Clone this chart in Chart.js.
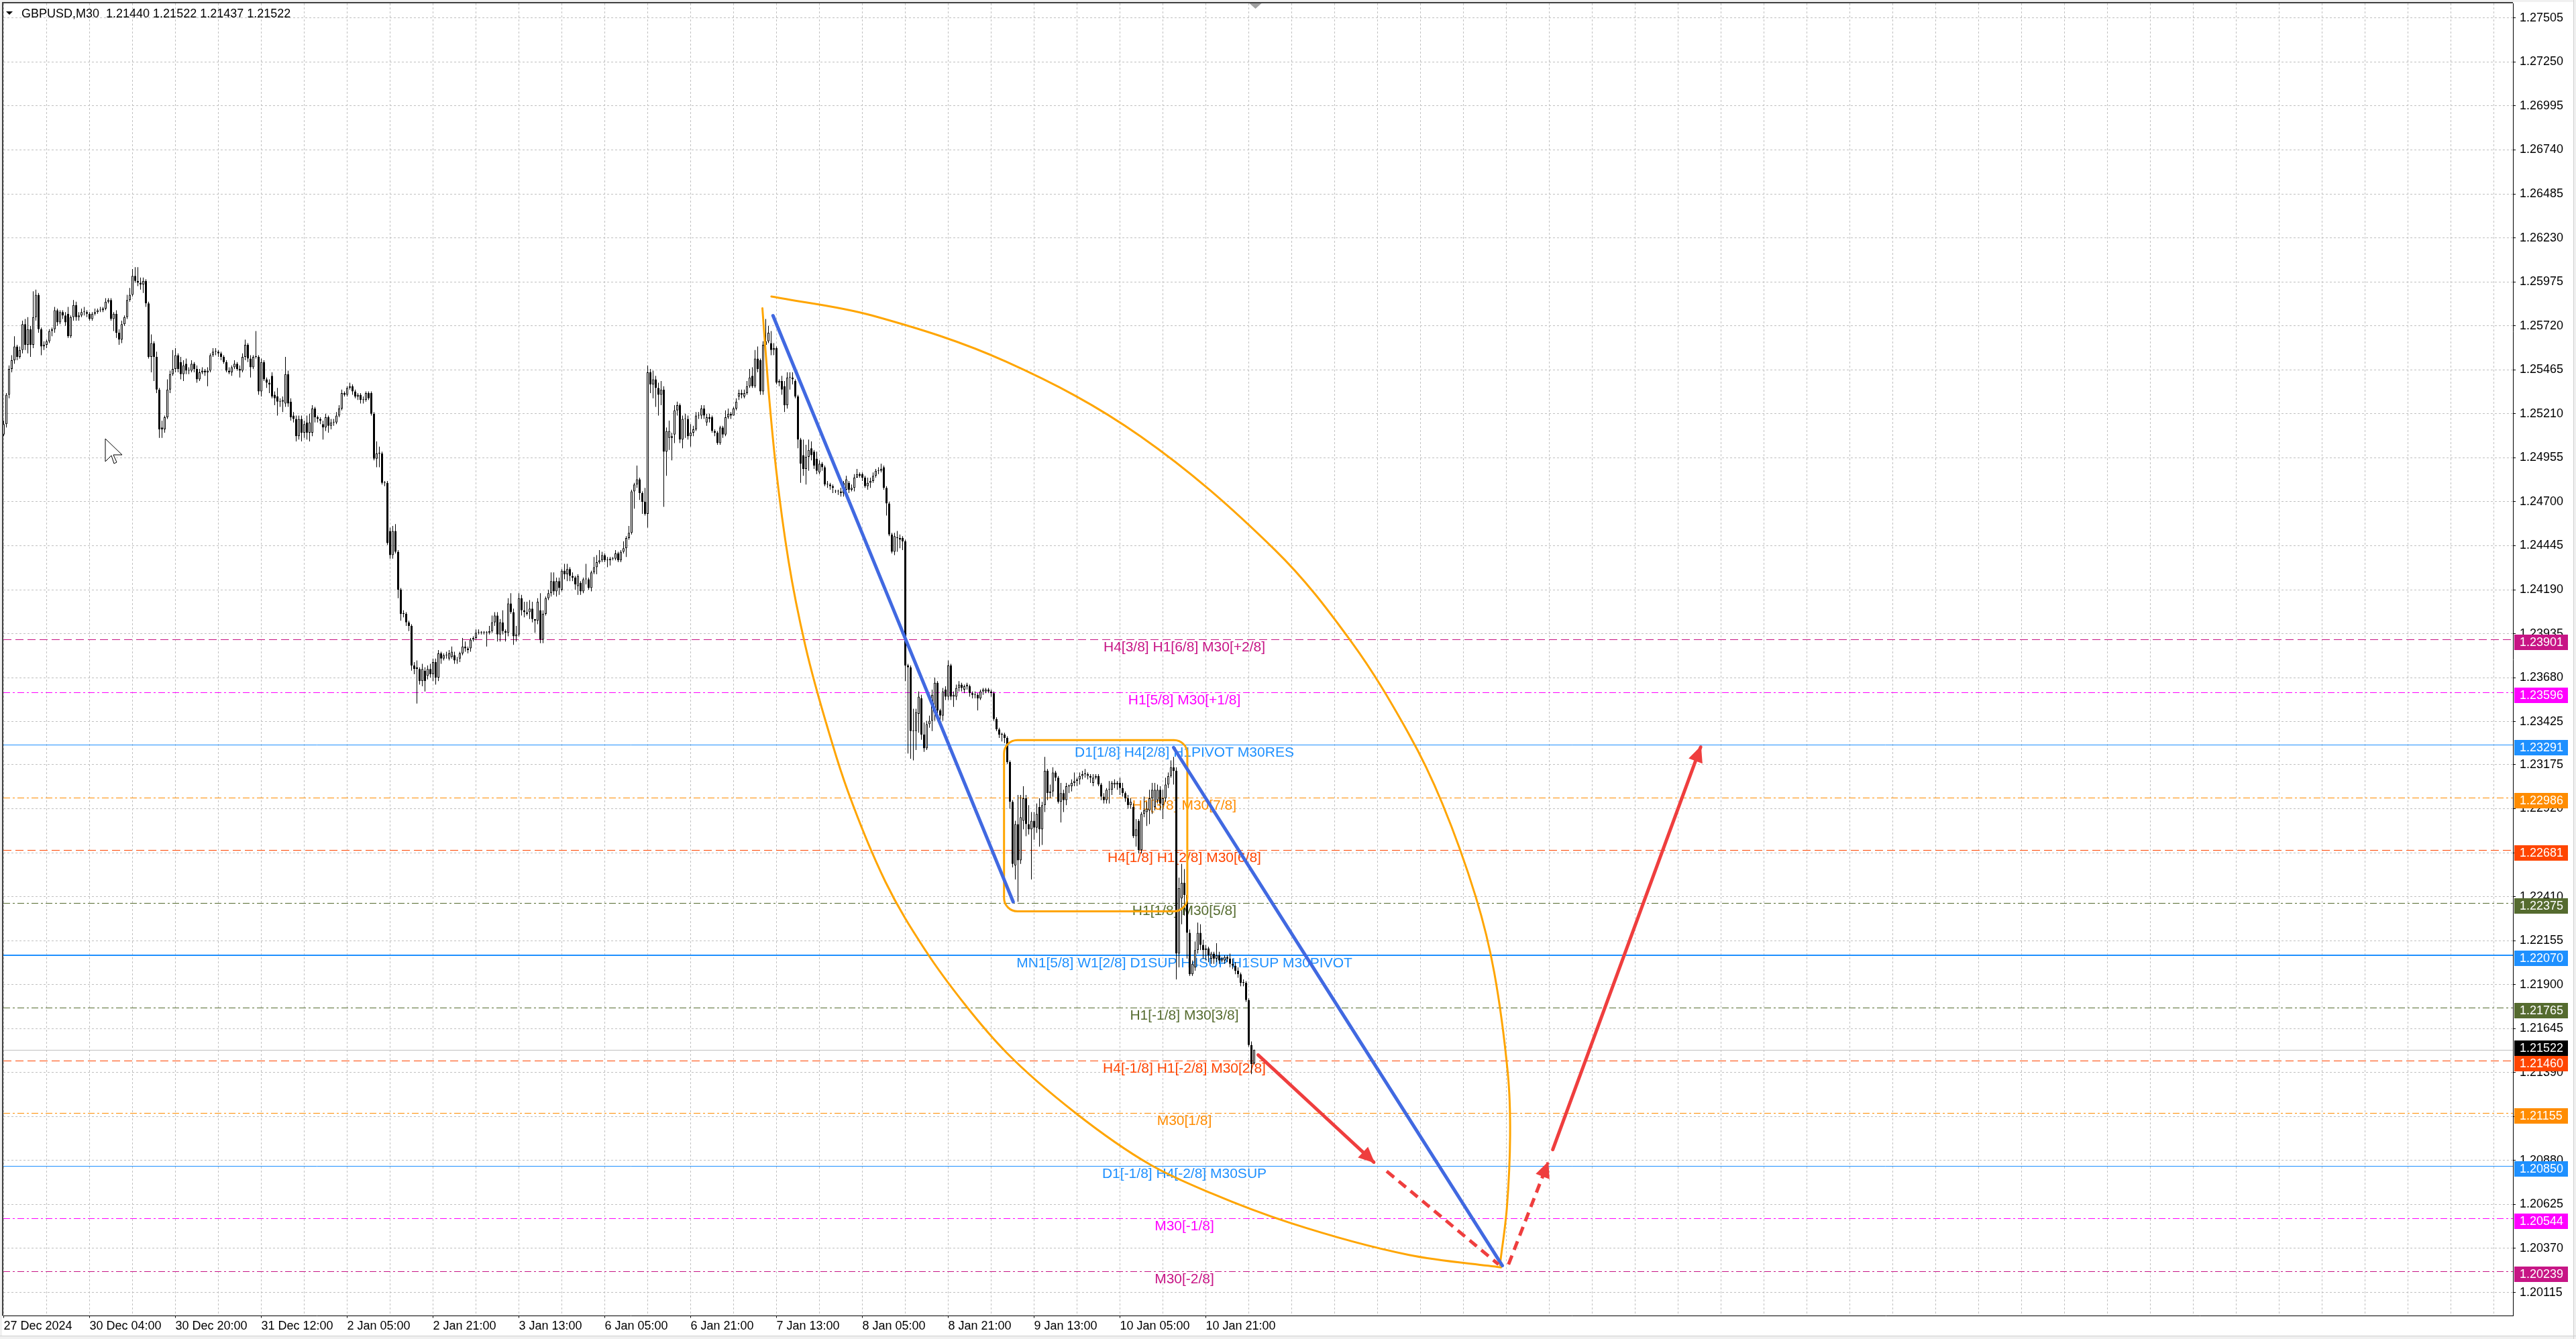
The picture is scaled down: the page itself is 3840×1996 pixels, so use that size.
<!DOCTYPE html>
<html>
<head>
<meta charset="utf-8">
<title>GBPUSD,M30</title>
<script src="https://cdn.jsdelivr.net/npm/chart.js@4.4.1/dist/chart.umd.min.js"></script>
<style>
  html, body { margin: 0; padding: 0; background: #ffffff; }
  #wrap { width: 3840px; height: 1996px; }
</style>
</head>
<body>
<div id="wrap"><canvas id="chart" width="3840" height="1996"></canvas></div>
<script>
// ── Quotes: pips above 1.2000, one entry per M30 bar ─────────
const BASE = 1.2;
const PIP = 0.0001;

const openPips = [
  509,515,532,547,552,560,554,558,573,561, 570,561,577,590,570,560,561,563,569,570,
  581,574,580,578,579,566,577,584,577,578, 580,580,579,576,579,580,581,581,582,586,
  587,576,579,568,564,573,577,587,590,601, 598,597,596,598,585,554,562,554,535,513,
  512,519,535,544,547,555,551,544,550,546, 546,550,547,541,545,546,545,546,555,557,
  557,556,554,551,546,545,548,550,547,546, 554,561,553,548,554,554,534,551,541,539,
  543,532,531,528,528,527,544,528,520,518, 508,518,510,516,510,510,524,519,518,515,
  513,519,514,516,516,520,524,533,532,536, 537,534,531,532,529,529,533,533,521,495,
  498,498,481,481,453,439,453,441,419,405, 405,400,398,375,374,373,366,372,369,373,
  370,377,368,382,379,381,379,380,381,378, 379,382,386,385,
  385,390,391,394,394,394,394,394,395,400, 404,393,400,395,394,411,406,392,393,414,
  407,405,406,408,402,401,407,390,405,414, 417,424,418,424,419,430,428,431,427,426,
  421,423,418,425,425,420,429,432,435,436, 439,436,436,437,437,440,436,441,443,449,
  452,476,480,483,475,470,463,545,538,541, 536,532,535,499,507,508,509,523,526,506,
  518,518,508,510,512,520,520,524,516,519, 519,511,510,504,513,509,519,521,520,524,
  531,533,531,533,537,543,537,553,552,534, 561,563,562,558,559,539,540,537,526,542,
  542,540,531,506,497,489,496,501,499,495, 487,492,490,480,480,479,476,476,476,475,
  477,481,477,478,484,486,486,484,479,481, 482,485,488,488,490,478,469,451,441,449,
  449,449,447,375,374,337,337,347,356,335, 327,341,343,350,365,349,346,361,357,375,
  357,357,362,364,361,363,363,359,358,358, 356,360,360,361,360,359,344,338,335,335,
  333,319,296,259,283,262,285,298,283,280, 285,281,293,280,294,314,301,302,313,310,
  296,301,297,305,305,307,308,309,311,312, 311,311,307,310,311,306,299,297,303,303,
  306,306,307,304,301,298,294,293,276,285, 268,289,290,291,298,293,297,303,294,298,
  306,311,316,314,208,240,249,242,220,196, 200,210,220,213,210,211,205,208,205,207,
  204,204,206,205,202,201,198,196,191,191, 181,155,144.4
];
const highPips = [
  517,533,549,555,566,561,560,575,576,577, 572,592,593,591,571,563,564,570,571,583,
  582,581,581,580,583,578,587,586,580,582, 583,581,580,580,582,582,583,583,588,588,
  588,580,581,570,575,578,590,594,605,606, 606,600,600,599,586,567,563,557,536,517,
  520,541,546,558,559,556,554,552,553,548, 552,551,549,547,548,547,548,556,559,559,
  558,557,555,552,548,549,552,551,549,556, 564,562,555,555,569,555,553,552,542,541,
  545,534,536,530,531,554,546,530,522,520, 520,520,517,520,521,526,525,520,519,517,
  521,520,518,518,522,526,535,534,537,539, 538,535,533,533,531,534,534,534,522,505,
  502,499,482,482,455,456,457,442,420,407, 406,401,399,377,378,374,376,374,375,376,
  379,379,384,383,382,383,384,386,383,380, 383,391,389,386,
  391,392,396,396,395,395,395,398,404,406, 406,402,407,396,414,417,408,398,417,416,
  412,412,413,412,402,414,417,407,415,419, 429,429,426,426,431,434,434,432,429,427,
  428,424,426,434,426,430,438,439,442,441, 440,438,438,438,442,441,442,447,450,456,
  477,481,491,484,476,478,549,547,546,543, 539,540,537,513,517,510,526,528,527,520,
  521,520,515,514,522,522,526,526,521,521, 520,512,511,514,514,523,524,522,525,530,
  535,535,535,540,547,548,558,560,553,563, 576,572,569,562,560,541,543,540,545,545,
  545,541,532,507,506,503,506,505,500,499, 494,493,491,482,481,480,477,477,478,482,
  485,482,480,486,489,487,487,485,484,484, 487,489,490,492,491,479,470,452,452,453,
  451,450,448,376,375,350,350,360,358,342, 343,346,361,368,366,350,362,363,378,376,
  360,364,366,365,364,365,364,360,360,359, 361,362,362,362,361,360,345,339,336,336,
  334,320,297,285,300,300,305,300,294,290, 290,295,298,296,322,315,306,316,314,311,
  307,303,307,306,309,313,310,313,314,315, 313,312,312,312,312,307,301,304,308,308,
  309,308,310,307,302,300,298,295,286,286, 290,299,296,303,307,307,306,305,303,310,
  313,320,322,316,252,260,257,245,222,204, 215,226,225,216,213,212,209,209,214,209,
  206,207,207,208,205,203,200,197,193,192, 182,157,152.2
];
const lowPips = [
  508,513,530,545,550,552,553,556,558,556, 554,559,575,568,555,558,559,562,566,568,
  572,573,576,572,565,565,575,575,575,577, 578,577,575,575,578,579,580,580,581,585,
  575,569,565,561,562,572,576,586,589,597, 595,593,591,583,553,545,540,533,507,507,
  510,518,533,543,545,545,541,540,544,544, 545,545,539,540,544,543,537,545,554,555,
  554,552,550,545,544,543,547,546,542,545, 552,551,542,547,553,532,531,540,536,533,
  530,526,520,525,522,525,525,517,516,505, 506,505,507,506,505,508,516,516,515,506,
  511,510,512,514,515,519,523,531,531,535, 532,530,529,527,527,528,529,520,494,490,
  490,480,479,445,437,437,440,414,401,403, 398,395,372,370,353,364,363,360,367,368,
  366,364,366,376,378,379,378,379,376,376, 377,381,383,382,
  383,389,390,393,393,393,386,393,394,398, 389,389,393,389,392,405,387,389,392,404,
  403,404,402,400,394,399,388,388,404,413, 415,416,415,416,418,425,424,424,424,419,
  416,416,417,422,419,418,428,428,434,435, 435,432,433,436,436,435,435,440,438,448,
  451,466,478,471,463,462,455,533,530,525, 520,526,467,485,500,494,504,520,504,501,
  507,506,502,508,511,518,518,518,514,516, 510,508,503,503,507,508,518,518,520,523,
  529,530,530,532,536,536,536,545,532,532, 560,562,555,555,538,537,532,522,524,535,
  538,530,501,481,485,480,488,494,489,486, 486,488,479,478,477,475,475,474,473,473,
  475,475,476,476,484,484,482,478,477,478, 481,484,486,487,477,462,450,440,439,441,
  443,442,366,324,321,320,326,336,332,325, 326,339,337,343,343,341,343,355,355,355,
  351,355,360,360,359,361,357,356,356,349, 355,358,359,359,357,343,337,333,331,330,
  318,292,258,251,238,260,280,276,277,251, 274,278,270,271,290,297,298,299,308,295,
  284,290,294,301,302,305,305,306,309,310, 309,307,305,309,305,297,295,295,295,300,
  304,303,300,299,296,292,292,275,270,266, 266,287,282,283,289,291,295,291,286,296,
  304,310,306,193,200,225,230,205,195,195, 198,208,210,205,204,203,202,202,203,202,
  203,202,203,200,199,196,194,189,189,180, 154,138,143.7
];
const closePips = [
  515,532,547,552,560,554,558,573,561,570, 561,577,590,570,560,561,563,569,570,581,
  574,580,578,574,566,577,584,577,578,580, 580,579,576,579,580,581,581,582,586,587,
  576,579,568,564,573,577,587,590,601,598, 597,596,598,585,554,562,554,535,512,512,
  519,535,544,547,555,547,544,549,546,546, 550,547,541,545,546,545,546,555,557,557,
  556,554,551,546,545,548,550,547,546,554, 561,553,548,554,554,534,551,541,539,538,
  531,530,528,528,529,544,527,519,518,508, 518,510,515,510,516,524,519,518,517,513,
  519,514,516,516,520,524,533,532,536,537, 534,531,532,529,529,533,530,521,495,498,
  498,481,481,446,439,453,441,419,405,405, 400,398,375,373,373,366,373,366,373,370,
  377,368,382,379,381,381,382,383,378,378, 382,386,385,384,
  390,391,394,394,394,394,394,395,400,404, 393,400,395,394,411,406,392,393,414,407,
  406,406,408,402,401,412,390,405,414,417, 424,418,424,420,430,428,431,427,426,422,
  427,418,425,425,420,429,432,435,436,439, 436,436,437,437,440,436,441,443,449,452,
  476,480,483,475,470,463,545,538,541,536, 532,535,499,511,511,507,523,526,506,518,
  518,508,510,512,520,520,524,520,519,518, 511,510,504,513,509,519,521,520,524,528,
  533,532,533,537,542,537,553,547,534,561, 563,568,558,559,539,540,535,526,542,542,
  541,531,506,492,489,496,500,497,491,488, 492,490,480,480,479,478,476,476,475,481,
  483,477,478,484,486,485,484,479,481,482, 485,488,488,489,478,469,451,441,450,449,
  448,447,375,374,337,337,348,357,335,327, 341,343,358,365,349,346,360,357,375,357,
  358,362,364,362,363,364,359,358,358,356, 360,361,361,360,359,344,338,335,335,333,
  319,296,260,283,262,287,298,283,280,285, 281,289,280,294,314,301,302,313,310,296,
  301,297,305,305,307,308,309,311,312,312, 312,310,310,311,306,299,297,303,303,307,
  307,307,304,301,298,294,296,276,280,268, 289,291,292,298,303,303,303,295,298,306,
  311,316,314,208,246,249,242,220,196,202, 210,220,213,210,211,207,208,205,207,204,
  205,206,205,202,201,198,196,191,191,181, 155,144,152.2
];

// ── Axis labels ──────────────────────────────────────────────
const timeLabels = ['27 Dec 2024', '30 Dec 04:00', '30 Dec 20:00', '31 Dec 12:00', '2 Jan 05:00',
  '2 Jan 21:00', '3 Jan 13:00', '6 Jan 05:00', '6 Jan 21:00', '7 Jan 13:00', '8 Jan 05:00',
  '8 Jan 21:00', '9 Jan 13:00', '10 Jan 05:00', '10 Jan 21:00'];
const BARS_PER_LABEL = 32;
const BARS_PER_GRID = 16;
const priceTicks = [1.27505, 1.27250, 1.26995, 1.26740, 1.26485, 1.26230, 1.25975, 1.25720,
  1.25465, 1.25210, 1.24955, 1.24700, 1.24445, 1.24190, 1.23935, 1.23680, 1.23425, 1.23175,
  1.22920, 1.22665, 1.22410, 1.22155, 1.21900, 1.21645, 1.21390, 1.21135, 1.20880, 1.20625,
  1.20370, 1.20115];

// ── Murrey math levels ───────────────────────────────────────
const levelPrices = [1.23901, 1.23596, 1.23291, 1.22986, 1.22681, 1.22375, 1.22070,
  1.21765, 1.21460, 1.21155, 1.20850, 1.20544, 1.20239];
const levelNames = ['H4[3/8] H1[6/8] M30[+2/8]', 'H1[5/8] M30[+1/8]', 'D1[1/8] H4[2/8] H1PIVOT M30RES',
  'H1[3/8] M30[7/8]', 'H4[1/8] H1[2/8] M30[6/8]', 'H1[1/8] M30[5/8]',
  'MN1[5/8] W1[2/8] D1SUP H4SUP H1SUP M30PIVOT', 'H1[-1/8] M30[3/8]', 'H4[-1/8] H1[-2/8] M30[2/8]',
  'M30[1/8]', 'D1[-1/8] H4[-2/8] M30SUP', 'M30[-1/8]', 'M30[-2/8]'];
const bidPrice = 1.21522;
const quoteTitle = 'GBPUSD,M30  1.21440 1.21522 1.21437 1.21522';

// ── Projection drawing: [bar, price] ─────────────────────────
const trendA = [[286.7, 1.25779], [376.2, 1.22380]];
const trendB = [[436, 1.23274], [558.5, 1.20270]];
const arcLeft = [[282.75, 1.25822], [285, 1.25354], [287.9, 1.24883], [292.5, 1.24355],
  [298.75, 1.23865], [308.75, 1.23300], [314.6, 1.23021], [328.6, 1.22496], [343.6, 1.22096],
  [358.6, 1.21777], [373.75, 1.21505], [399.5, 1.21155], [427.25, 1.20856], [450.3, 1.20688],
  [479, 1.20520], [523.75, 1.20332], [558, 1.20260]];
const arcRight = [[286.1, 1.25890], [323.6, 1.25780], [373.6, 1.25512], [423.6, 1.25080],
  [473.6, 1.24423], [502.4, 1.23884], [523.6, 1.23355], [536.1, 1.22951], [548.6, 1.22409],
  [555.5, 1.21969], [560.55, 1.21385], [561.4, 1.21027], [560.2, 1.20607], [557.6, 1.20273]];
const rangeBox = [372.8, 441.1, 1.23318, 1.22325];   // bar from, bar to, top, bottom
const moveDown = [[467.5, 1.21492], [510.6, 1.20870]];
const moveDownNext = [[515.4, 1.20818], [557.1, 1.20277]];
const moveUpFirst = [[560.8, 1.20277], [575.5, 1.20867]];
const moveUp = [[577.3, 1.20943], [632.4, 1.23277]];

// ── Styles ───────────────────────────────────────────────────
const FONT = '"Liberation Sans", Arial, sans-serif';
const levelColors = ['#C71585', '#FF00FF', '#1E90FF', '#FF8C00', '#FF4500', '#556B2F', '#1E90FF',
  '#556B2F', '#FF4500', '#FF8C00', '#1E90FF', '#FF00FF', '#C71585'];
const levelStyles = ['dash', 'dashdot', 'solid', 'dashdot', 'dash', 'dashdot', 'solid',
  'dashdot', 'dash', 'dashdot', 'solid', 'dashdot', 'dashdot'];
const levelWidths = [1, 1, 1, 1, 1, 1, 2, 1, 1, 1, 1, 1, 1];
const DASH = { solid: [], dash: [12, 6], dashdot: [10, 4, 3, 4] };
const LABEL_BAR = 440;
const RED = '#EF3E3E';

const toPrice = p => +(BASE + p * PIP).toFixed(5);
const barIdx = openPips.map((_, i) => i);
const crisp = v => Math.round(v) + 0.5;

const lineSet = (pts, color, width, dash, order, mode) => ({
  type: 'line',
  data: pts.map(([b, p]) => ({ x: b, y: p })),
  borderColor: color,
  borderWidth: width,
  borderDash: dash,
  borderCapStyle: dash.length ? 'butt' : 'round',
  borderJoinStyle: 'round',
  pointRadius: 0,
  tension: 0.35,
  cubicInterpolationMode: mode || 'default',
  fill: false,
  order,
});

const datasets = [
  {
    type: 'bar',
    data: barIdx.map(i => ({ x: i, y: [toPrice(lowPips[i]), toPrice(highPips[i])] })),
    backgroundColor: '#000000',
    borderWidth: 0,
    barThickness: 1,
    inflateAmount: 0,
    grouped: false,
    order: 5,
  },
  {
    type: 'bar',
    data: barIdx.map(i => ({ x: i, y: [toPrice(Math.min(openPips[i], closePips[i])), toPrice(Math.max(openPips[i], closePips[i]))] })),
    backgroundColor: barIdx.map(i => closePips[i] >= openPips[i] ? '#ffffff' : '#000000'),
    borderColor: '#000000',
    borderWidth: 1,
    borderSkipped: false,
    barThickness: 3,
    minBarLength: 1,
    inflateAmount: 0,
    grouped: false,
    order: 4,
  },
  lineSet(arcLeft, '#FFA500', 3, [], 3, 'monotone'),
  lineSet(arcRight, '#FFA500', 3, [], 3),
  lineSet(trendA, '#4169E1', 5, [], 2),
  lineSet(trendB, '#4169E1', 5, [], 2),
  lineSet(moveDown, RED, 5, [], 1),
  lineSet(moveDownNext, RED, 5, [14, 9], 1),
  lineSet(moveUpFirst, RED, 5, [14, 9], 1),
  lineSet(moveUp, RED, 5, [], 1),
];
const HEADED = [6, 8, 9];

function arrowHead(ctx, p0, p1) {
  const ang = Math.atan2(p1.y - p0.y, p1.x - p0.x);
  ctx.save();
  ctx.translate(p1.x, p1.y);
  ctx.rotate(ang);
  ctx.beginPath();
  ctx.moveTo(2, 0);
  ctx.lineTo(-22, -11);
  ctx.lineTo(-22, 11);
  ctx.closePath();
  ctx.fillStyle = RED;
  ctx.fill();
  ctx.restore();
}

// ── MT4 look: levels, tags, title, frame ─────────────────────
const mt4Plugin = {
  id: 'mt4',
  beforeDraw(chart) {
    const { ctx, width, height } = chart;
    ctx.save();
    ctx.fillStyle = '#ffffff';
    ctx.fillRect(0, 0, width, height);
    ctx.restore();
  },
  beforeDatasetsDraw(chart) {
    const { ctx, chartArea: a, scales: { x, y } } = chart;
    ctx.save();
    ctx.beginPath();
    ctx.rect(a.left, a.top, a.right - a.left, a.bottom - a.top);
    ctx.clip();
    const by = crisp(y.getPixelForValue(bidPrice));
    ctx.strokeStyle = '#C0C0C0';
    ctx.lineWidth = 1;
    ctx.beginPath(); ctx.moveTo(a.left, by); ctx.lineTo(a.right, by); ctx.stroke();
    const lx = x.getPixelForValue(LABEL_BAR);
    ctx.font = '21px ' + FONT;
    ctx.textAlign = 'center';
    ctx.textBaseline = 'top';
    levelPrices.forEach((p, k) => {
      const yy = y.getPixelForValue(p);
      const w = levelWidths[k];
      const ly = w % 2 ? crisp(yy) : Math.round(yy);
      ctx.strokeStyle = levelColors[k];
      ctx.lineWidth = w;
      ctx.setLineDash(DASH[levelStyles[k]]);
      ctx.beginPath(); ctx.moveTo(a.left, ly); ctx.lineTo(a.right, ly); ctx.stroke();
      ctx.fillStyle = levelColors[k];
      ctx.fillText(levelNames[k], lx, Math.round(yy) + 2);
    });
    ctx.restore();
  },
  afterDatasetDraw(chart, args) {
    if (args.index !== 1) return;
    const { ctx, scales: { x, y } } = chart;
    const x0 = x.getPixelForValue(rangeBox[0]);
    const x1 = x.getPixelForValue(rangeBox[1]);
    const y0 = y.getPixelForValue(rangeBox[2]);
    const y1 = y.getPixelForValue(rangeBox[3]);
    ctx.save();
    ctx.strokeStyle = '#FFA500';
    ctx.lineWidth = 3;
    ctx.beginPath();
    ctx.roundRect(x0, y0, x1 - x0, y1 - y0, 20);
    ctx.stroke();
    ctx.restore();
  },
  afterDatasetsDraw(chart) {
    const { ctx } = chart;
    HEADED.forEach(di => {
      const pts = chart.getDatasetMeta(di).data;
      arrowHead(ctx, pts[pts.length - 2], pts[pts.length - 1]);
    });
  },
  afterDraw(chart) {
    const { ctx, chartArea: a, scales: { x, y }, width, height } = chart;
    ctx.save();
    // price tags on the axis
    const tagH = 23, tagW = 80;
    const tag = (top, bg, text) => {
      ctx.fillStyle = bg;
      ctx.fillRect(a.right + 2, top, tagW, tagH);
      ctx.fillStyle = '#ffffff';
      ctx.fillText(text, a.right + 10, top + tagH / 2 + 1);
    };
    ctx.font = '18px ' + FONT;
    ctx.textAlign = 'left';
    ctx.textBaseline = 'middle';
    const tops = levelPrices.map((p, k) => {
      const top = Math.round(y.getPixelForValue(p)) - 7;
      tag(top, levelColors[k], p.toFixed(5));
      return top;
    });
    let bidTop = Math.round(y.getPixelForValue(bidPrice)) - 7;
    tops.forEach(t => { if (bidTop > t - tagH && bidTop < t + tagH) bidTop = t - tagH; });
    tag(bidTop, '#000000', bidPrice.toFixed(5));

    // chart shift marker
    const sx = x.getPixelForValue(closePips.length - 0.5);
    ctx.fillStyle = '#A0A0A0';
    ctx.beginPath(); ctx.moveTo(sx - 9, a.top); ctx.lineTo(sx + 9, a.top); ctx.lineTo(sx, a.top + 8); ctx.closePath(); ctx.fill();

    // window frame
    ctx.fillStyle = '#F0F0F0';
    ctx.fillRect(0, 0, width, 3);
    ctx.fillRect(0, 0, 3, height);
    ctx.fillRect(width - 3, 0, 3, height);
    ctx.fillRect(0, height - 4, width, 4);
    ctx.fillStyle = '#D0D0D0';
    ctx.fillRect(width - 4, 0, 1, height);
    ctx.fillRect(0, height - 5, width, 1);
    ctx.fillStyle = '#404040';
    ctx.fillRect(3, 3, 2, a.bottom - 3);
    ctx.fillRect(3, 3, a.right - 3, 2);

    // title
    ctx.fillStyle = '#000000';
    ctx.beginPath(); ctx.moveTo(9, 17); ctx.lineTo(19, 17); ctx.lineTo(14, 22); ctx.closePath(); ctx.fill();
    ctx.font = '18px ' + FONT;
    ctx.textBaseline = 'alphabetic';
    ctx.fillText(quoteTitle, 32, 26);

    // mouse cursor
    ctx.beginPath();
    ctx.moveTo(157, 654); ctx.lineTo(157, 688); ctx.lineTo(166, 679); ctx.lineTo(170, 691);
    ctx.lineTo(174, 689); ctx.lineTo(169, 678); ctx.lineTo(182, 678); ctx.closePath();
    ctx.fillStyle = '#ffffff'; ctx.fill();
    ctx.strokeStyle = '#000000'; ctx.lineWidth = 1; ctx.stroke();
    ctx.restore();
  },
};

new Chart(document.getElementById('chart'), {
  type: 'bar',
  data: { datasets },
  options: {
    responsive: false,
    animation: false,
    devicePixelRatio: 1,
    events: [],
    layout: { padding: { left: 5, top: 5, right: 0, bottom: 0 } },
    plugins: { legend: { display: false }, tooltip: { enabled: false } },
    scales: {
      x: {
        type: 'linear', min: -0.125, max: 935.125, offset: false,
        afterBuildTicks: ax => {
          const t = [];
          for (let v = 0; v <= ax.max; v += BARS_PER_GRID) t.push({ value: v });
          ax.ticks = t;
        },
        afterFit: ax => { ax.height = 34.5; ax.paddingLeft = 0; ax.paddingRight = 0; },
        ticks: {
          autoSkip: false, maxRotation: 0, minRotation: 0, align: 'start', padding: 2,
          color: '#000000', font: { family: FONT, size: 18 },
          callback: v => (v % BARS_PER_LABEL === 0 && timeLabels[v / BARS_PER_LABEL]) || '',
        },
        grid: {
          offset: false, color: '#C0C0C0', lineWidth: 1, tickLength: 3,
          tickColor: c => (c.tick && c.tick.value % BARS_PER_LABEL === 0 && c.tick.value / BARS_PER_LABEL < timeLabels.length) ? '#000000' : 'rgba(0,0,0,0)',
        },
        border: { display: true, color: '#000000', width: 1, dash: [3, 3] },
      },
      y: {
        type: 'linear', position: 'right', min: 1.19979, max: 1.2759,
        afterBuildTicks: ax => { ax.ticks = priceTicks.map(v => ({ value: v })); },
        afterFit: ax => { ax.width = 94; ax.paddingTop = 0; ax.paddingBottom = 0; },
        ticks: {
          autoSkip: false, padding: 6, color: '#000000', font: { family: FONT, size: 18 },
          callback: v => v.toFixed(5),
        },
        grid: { color: '#C0C0C0', lineWidth: 1, tickLength: 4, tickColor: '#000000' },
        border: { display: true, color: '#000000', width: 1, dash: [3, 3] },
      },
    },
  },
  plugins: [mt4Plugin],
});
</script>
</body>
</html>
